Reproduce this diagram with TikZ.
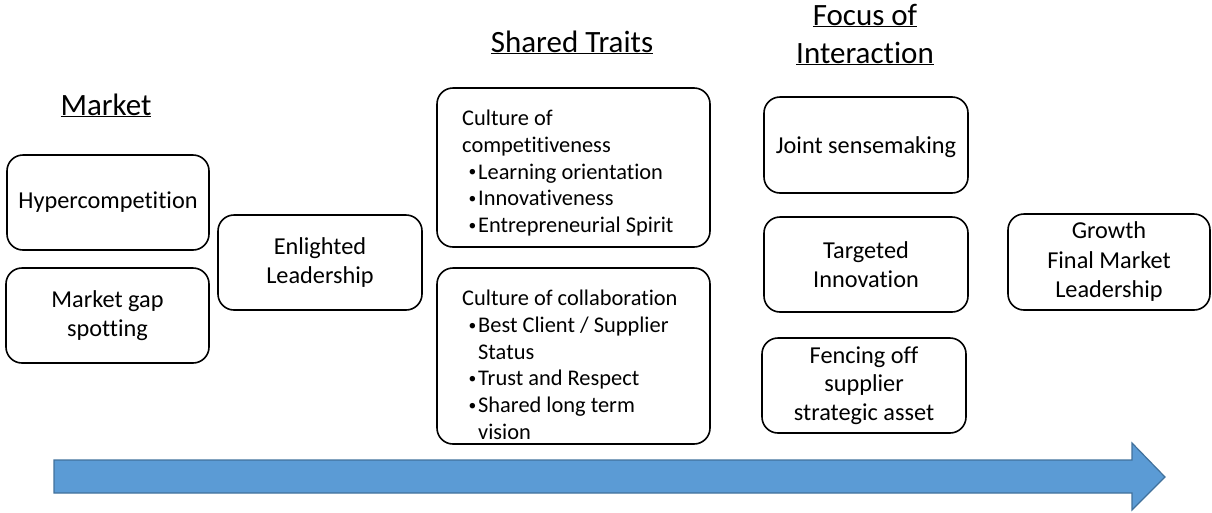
\documentclass[tikz,border=0pt]{standalone}
\usepackage{fontspec}
\setmainfont{Carlito}[Ligatures={NoCommon}]
\definecolor{arrowfill}{HTML}{5B9BD5}
\definecolor{arrowline}{HTML}{41719C}
\newcommand{\bul}[1]{\makebox[16pt][l]{\hspace*{6.5pt}\raisebox{2.2pt}{\fontsize{15.5}{15.5}\selectfont\textbullet}}#1}
\newcommand{\cont}[1]{\hspace*{16pt}#1}
\begin{document}
\begin{tikzpicture}[x=1pt,y=-1pt,
  card/.style={draw=black, line width=1.6pt, rounded corners=16pt, inner sep=0pt},
  cardtext/.style={align=center, font=\fontsize{24.3}{29.5}\selectfont},
  listtext/.style={align=left, anchor=north west, inner sep=0pt, font=\fontsize{22.4}{26.7}\selectfont},
  heading/.style={anchor=base, inner sep=0pt, align=center, font=\fontsize{31}{38}\selectfont}]
\useasboundingbox (0,0) rectangle (1212,512);

% column headings
\node[heading] (hmarket) at (106,115) {\underline{Market}};
\node[heading] (hshared) at (572,52) {\underline{Shared Traits}};
\node[heading] (hfocus1) at (865,25) {\underline{Focus of}};
\node[heading] (hfocus2) at (865,63) {\underline{Interaction}};

% market column
\node[card, minimum width=202pt, minimum height=95pt] (hyper) at (108,202.5) {};
\node[cardtext] (hypert) at (hyper.center) {Hypercompetition};
\node[card, minimum width=203pt, minimum height=95pt] (gap) at (107.5,315.5) {};
\node[cardtext] (gapt) at (gap.center) {Market gap\\spotting};
\node[card, minimum width=204pt, minimum height=95pt] (lead) at (320,262.5) {};
\node[cardtext] (leadt) at (lead.center) {Enlighted\\Leadership};

% shared traits column
\node[card, minimum width=273pt, minimum height=159pt] (comp) at (573.5,167.5) {};
\node[listtext] (compt) at (462,110) {Culture of\\competitiveness\\
  \bul{Learning orientation}\\\bul{Innovativeness}\\\bul{Entrepreneurial Spirit}};
\node[card, minimum width=273pt, minimum height=176pt] (collab) at (573.5,356) {};
\node[listtext] (collabt) at (462,290) {Culture of collaboration\\
  \bul{Best Client / Supplier}\\\cont{Status}\\\bul{Trust and Respect}\\
  \bul{Shared long term}\\\cont{vision}};

% focus of interaction column
\node[card, minimum width=204pt, minimum height=96pt] (joint) at (866,145) {};
\node[cardtext] (jointt) at (866,147) {Joint sensemaking};
\node[card, minimum width=204pt, minimum height=95pt] (target) at (866,264.5) {};
\node[cardtext] (targett) at (target.center) {Targeted\\Innovation};
\node[card, minimum width=204pt, minimum height=95pt] (fence) at (864,385.5) {};
\node[cardtext, font=\fontsize{24.3}{28.5}\selectfont] (fencet) at (fence.center) {Fencing off\\supplier\\strategic asset};

% outcome
\node[card, minimum width=202pt, minimum height=96pt] (growth) at (1109,262) {};
\node[cardtext] (growtht) at (growth.center) {Growth\\Final Market\\Leadership};

% time arrow along the bottom
\draw[fill=arrowfill, draw=arrowline, line width=1.2pt, line join=miter]
  (54,460) -- (1132,460) -- (1132,443) -- (1165,477) -- (1132,510)
  -- (1132,493) -- (54,493) -- cycle;
\end{tikzpicture}
\end{document}
